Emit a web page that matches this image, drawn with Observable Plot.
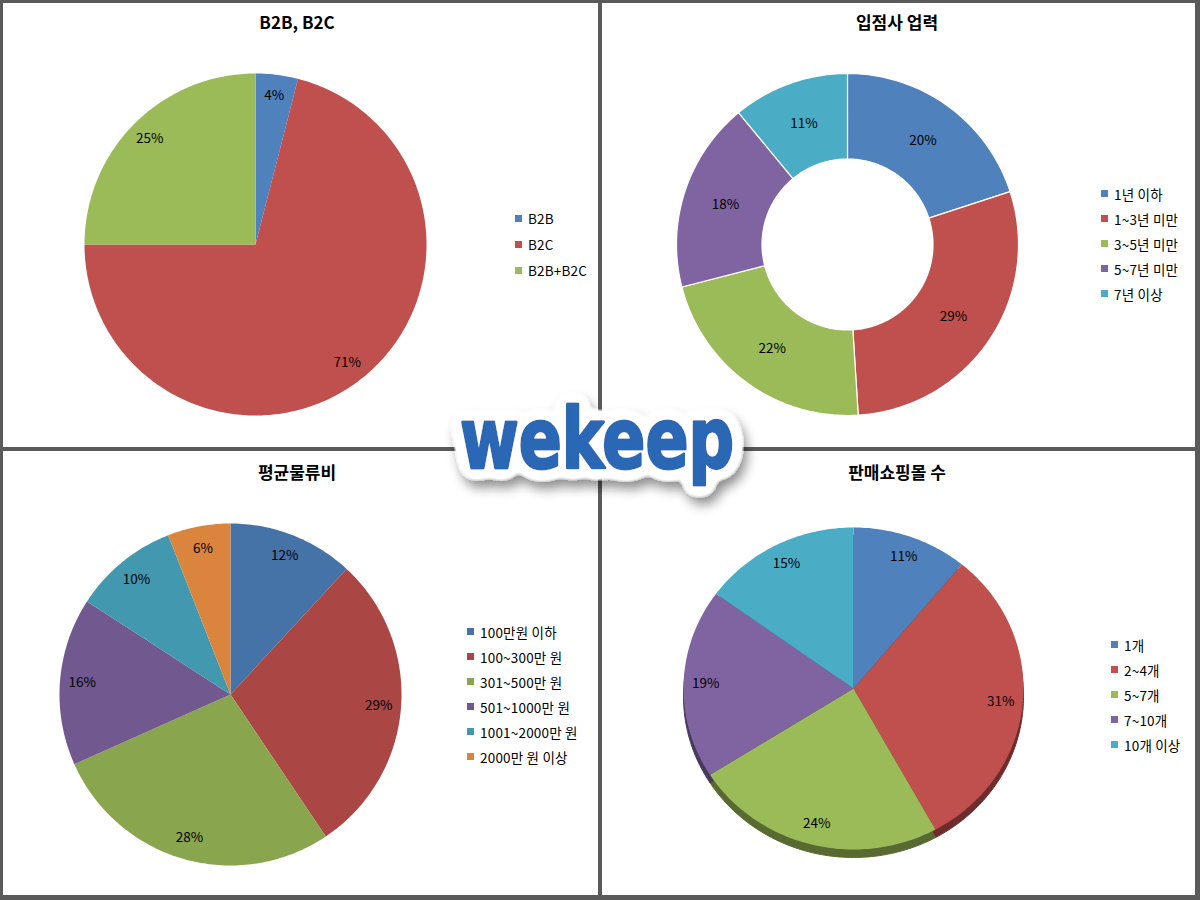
<!DOCTYPE html>
<html><head><meta charset="utf-8">
<script src="https://cdn.jsdelivr.net/npm/d3@7"></script>
<script src="https://cdn.jsdelivr.net/npm/@observablehq/plot@0.6"></script>
<style>
body{margin:0;background:#fff;}
#wrap{position:relative;width:1200px;height:900px;background:#5a5a5a;overflow:hidden;font-family:"Noto Sans CJK KR","Noto Sans",sans-serif;}
.panel{position:absolute;background:#fff;}
.plotbox{position:absolute;width:600px;height:450px;}
.title{position:absolute;font-weight:bold;font-size:17px;line-height:20px;color:#000;text-align:center;width:600px;}
.legend{position:absolute;font-size:13.5px;color:#000;letter-spacing:0.2px;}
.legend .row{display:flex;align-items:center;white-space:nowrap;}
.legend .sw{display:inline-block;width:7px;height:7px;margin-right:6px;}
#logo{position:absolute;left:410px;top:370px;overflow:visible;}
</style></head>
<body>
<div id="wrap"></div>
<script>
// ---- data ----
const titles = ["B2B, B2C", "입점사 업력", "평균물류비", "판매쇼핑몰 수"];
const b2bCats = ["B2B", "B2C", "B2B+B2C"];
const b2bVals = [4, 71, 25];
const careerCats = ["1년 이하", "1~3년 미만", "3~5년 미만", "5~7년 미만", "7년 이상"];
const careerVals = [20, 29, 22, 18, 11];
const costCats = ["100만원 이하", "100~300만 원", "301~500만 원", "501~1000만 원", "1001~2000만 원", "2000만 원 이상"];
const costVals = [12, 29, 28, 16, 10, 6];
const mallCats = ["1개", "2~4개", "5~7개", "7~10개", "10개 이상"];
const mallVals = [11, 31, 24, 19, 15];
const paletteA = ["#4F81BD", "#C0504D", "#9BBB59", "#8064A2", "#4BACC6"];
const paletteB = ["#4572A7", "#AA4643", "#89A54E", "#71588F", "#4198AF", "#DB843D"];
const logoText = "wekeep";

// ---- helpers ----
function buildSlices(cats, vals, inner, labelR) {
  const total = d3.sum(vals);
  let acc = 0;
  const pts = [], labels = [];
  cats.forEach((c, i) => {
    const a0 = acc / total * 2 * Math.PI;
    acc += vals[i];
    const a1 = acc / total * 2 * Math.PI;
    const n = Math.max(2, Math.ceil((a1 - a0) / (Math.PI / 180)));
    if (inner === 0) pts.push({cat: c, x: 0, y: 0});
    for (let j = 0; j <= n; j++) {
      const a = a0 + (a1 - a0) * j / n;
      pts.push({cat: c, x: Math.sin(a), y: Math.cos(a)});
    }
    if (inner > 0) {
      for (let j = n; j >= 0; j--) {
        const a = a0 + (a1 - a0) * j / n;
        pts.push({cat: c, x: inner * Math.sin(a), y: inner * Math.cos(a)});
      }
    }
    const m = (a0 + a1) / 2;
    labels.push({cat: c, x: labelR * Math.sin(m), y: labelR * Math.cos(m), text: vals[i] + "%"});
  });
  return {pts, labels};
}

const wrap = document.getElementById("wrap");
const panels = [
  {x: 3, y: 3, w: 595, h: 444},
  {x: 602, y: 3, w: 593, h: 444},
  {x: 3, y: 451, w: 595, h: 444},
  {x: 602, y: 451, w: 593, h: 444}
];
panels.forEach(p => {
  const d = document.createElement("div");
  d.className = "panel";
  Object.assign(d.style, {left: p.x + "px", top: p.y + "px", width: p.w + "px", height: p.h + "px"});
  wrap.appendChild(d);
});

const charts = [
  {ox: 0, oy: 0, cats: b2bCats, vals: b2bVals, pal: paletteA, cx: 255, cy: 244, rx: 171, ry: 171, inner: 0, lr: 0.875, stroke: "none",
   legend: {left: 515, top: 205, rowH: 26}},
  {ox: 600, oy: 0, cats: careerCats, vals: careerVals, pal: paletteA, cx: 247, cy: 244, rx: 171, ry: 171, inner: 0.5, lr: 0.75, stroke: "white",
   legend: {left: 1101, top: 181, rowH: 25}},
  {ox: 0, oy: 450, cats: costCats, vals: costVals, pal: paletteB, cx: 230, cy: 244, rx: 171, ry: 171, inner: 0, lr: 0.87, stroke: "none",
   legend: {left: 467, top: 619, rowH: 25}},
  {ox: 600, oy: 450, cats: mallCats, vals: mallVals, pal: paletteA, cx: 253, cy: 238, rx: 170, ry: 161, inner: 0, lr: 0.87, stroke: "none", depth: 8,
   legend: {left: 1111, top: 632, rowH: 25}}
];

charts.forEach((c, idx) => {
  const {pts, labels} = buildSlices(c.cats, c.vals, c.inner, c.lr);
  const marks = [];
  if (c.depth) {
    const darkPal = c.pal.map(col => d3.color(col).darker(1.6).formatHex());
    marks.push(Plot.line(pts, {x: "x", y: "y", z: "cat", fill: d => darkPal[c.cats.indexOf(d.cat)], stroke: d => darkPal[c.cats.indexOf(d.cat)], strokeWidth: 1, curve: "linear-closed", dy: c.depth}));
  }
  marks.push(Plot.line(pts, {x: "x", y: "y", z: "cat", fill: "cat", stroke: c.stroke, strokeWidth: c.stroke === "none" ? 0 : 1.2, curve: "linear-closed"}));
  marks.push(Plot.text(labels, {x: "x", y: "y", text: "text", fill: "#000", fontSize: 13.5}));
  const chart = Plot.plot({
    width: 600, height: 450, margin: 0,
    x: {domain: [-1, 1], range: [c.cx - c.rx, c.cx + c.rx], axis: null},
    y: {domain: [-1, 1], range: [c.cy + c.ry, c.cy - c.ry], axis: null},
    color: {domain: c.cats, range: c.pal},
    style: {background: "transparent", overflow: "visible", fontFamily: '"Noto Sans CJK KR","Noto Sans",sans-serif'},
    marks
  });
  const box = document.createElement("div");
  box.className = "plotbox";
  box.style.left = c.ox + "px";
  box.style.top = c.oy + "px";
  box.appendChild(chart);
  wrap.appendChild(box);

  const t = document.createElement("div");
  t.className = "title";
  t.textContent = titles[idx];
  t.style.left = (c.ox - 3) + "px";
  t.style.top = (c.oy + 12) + "px";
  wrap.appendChild(t);

  const lg = document.createElement("div");
  lg.className = "legend";
  lg.style.left = c.legend.left + "px";
  lg.style.top = c.legend.top + "px";
  c.cats.forEach((cat, i) => {
    const r = document.createElement("div");
    r.className = "row";
    r.style.height = c.legend.rowH + "px";
    const sw = document.createElement("span");
    sw.className = "sw";
    sw.style.background = c.pal[i];
    r.appendChild(sw);
    r.appendChild(document.createTextNode(cat));
    lg.appendChild(r);
  });
  wrap.appendChild(lg);
});

// ---- logo ----
const ns = "http://www.w3.org/2000/svg";
const svg = document.createElementNS(ns, "svg");
svg.setAttribute("id", "logo");
svg.setAttribute("width", 380);
svg.setAttribute("height", 160);
svg.innerHTML = `
<defs><filter id="outline" x="-15%" y="-40%" width="135%" height="190%">
<feGaussianBlur in="SourceAlpha" stdDeviation="7" result="bl"/>
<feComponentTransfer in="bl" result="dm"><feFuncA type="linear" slope="25" intercept="-0.6"/></feComponentTransfer>
<feGaussianBlur in="dm" stdDeviation="6" result="b"/>
<feOffset in="b" dx="4" dy="8" result="o"/>
<feComponentTransfer in="o" result="s"><feFuncA type="linear" slope="0.45"/></feComponentTransfer>
<feFlood flood-color="#fff"/>
<feComposite in2="dm" operator="in" result="w"/>
<feMerge><feMergeNode in="s"/><feMergeNode in="w"/><feMergeNode in="SourceGraphic"/></feMerge>
</filter></defs>
<text x="187" y="98" textLength="274" lengthAdjust="spacingAndGlyphs" font-family="'DejaVu Sans', sans-serif" font-weight="700" font-size="84" text-anchor="middle" fill="#2B67B6" stroke="#2B67B6" stroke-width="3" stroke-linejoin="round" filter="url(#outline)">${logoText}</text>`;
wrap.appendChild(svg);
</script>
</body></html>
